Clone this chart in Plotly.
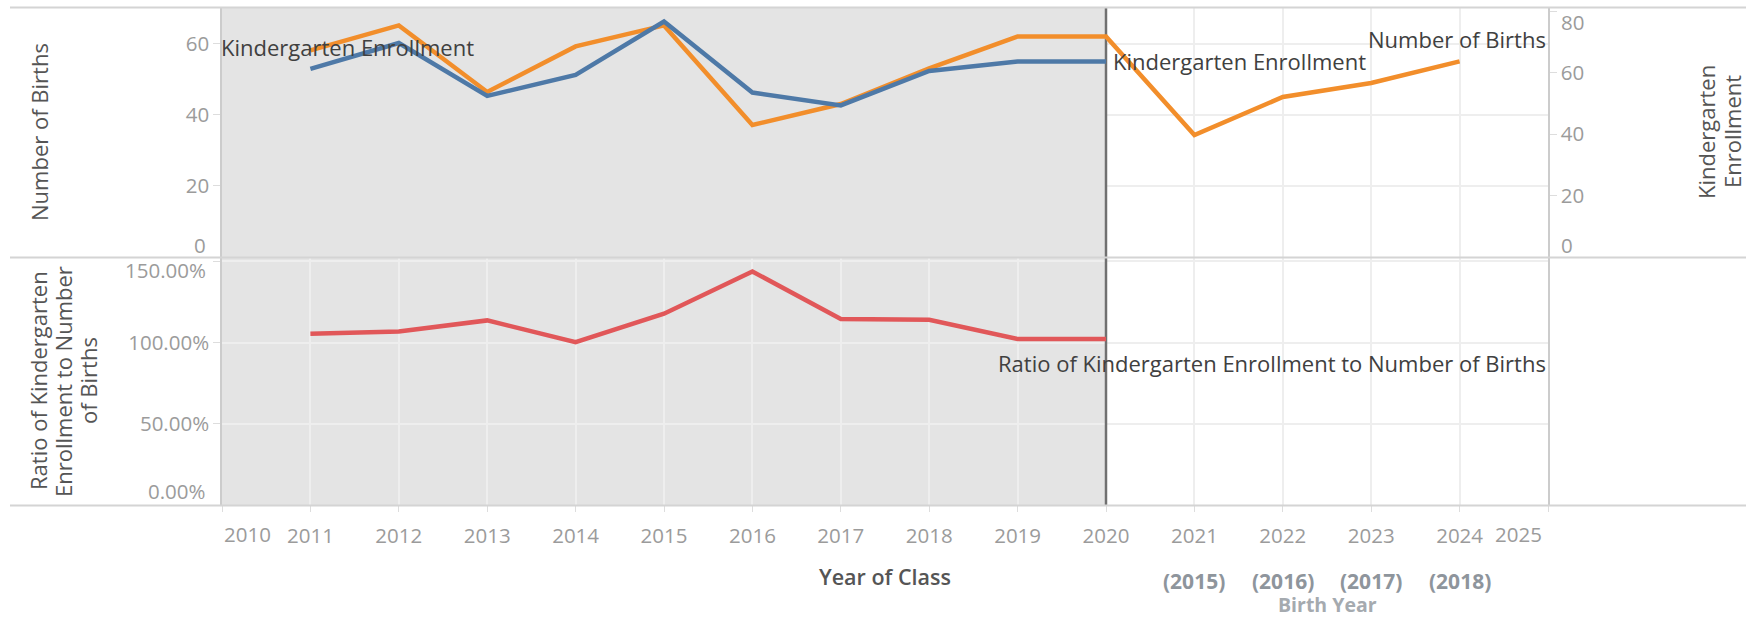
import plotly.graph_objects as go

# ---------------- data ----------------
class_years = [2011, 2012, 2013, 2014, 2015, 2016, 2017, 2018, 2019, 2020, 2021, 2022, 2023, 2024]
births = [58.1, 65.1, 46.4, 59.2, 65.1, 37.1, 43.0, 53.0, 62.0, 62.0, 34.3, 45.0, 48.9, 55.0]

enroll_years = [2011, 2012, 2013, 2014, 2015, 2016, 2017, 2018, 2019, 2020]
enrollment = [61.2, 69.6, 52.4, 59.2, 76.6, 53.5, 49.3, 60.5, 63.6, 63.6]

ratio_years = [2011, 2012, 2013, 2014, 2015, 2016, 2017, 2018, 2019, 2020]
ratio = [1.054, 1.068, 1.136, 1.002, 1.177, 1.437, 1.144, 1.140, 1.021, 1.021]

x_tick_years = list(range(2010, 2026))
births_ticks = [0, 20, 40, 60]
enroll_ticks = [0, 20, 40, 60, 80]
ratio_ticks = [0, 0.5, 1.0, 1.5]

birth_label_years = [2021, 2022, 2023, 2024]
birth_year_labels = ["(2015)", "(2016)", "(2017)", "(2018)"]

x_range = [2010, 2025]
births_range = [0, 70]
enroll_range = [0, 81]
ratio_range = [0, 1.52]
split_year = 2020

# ---------------- style / layout ----------------
W, H = 1746, 620
FONT = "Open Sans"
ORANGE, BLUE, RED = "#f28e2b", "#4e79a7", "#e15759"
TICK_COLOR = "#9b9b9b"
LABEL_COLOR = "#404040"
TITLE_COLOR = "#555555"
GRID = "#eeeeee"
BORDER = "#d4d4d4"
BAND = "#e4e4e4"


def px(x):
    return x / W


def py(y):
    return 1 - y / H


X0, X1 = 222, 1548
TOP0, TOP1 = 8, 257
BOT0, BOT1 = 258, 505

tick_font = dict(family=FONT, size=20.5, color=TICK_COLOR)
lab_font = dict(family=FONT, size=22, color=LABEL_COLOR)
title_font = dict(family=FONT, size=22, color=TITLE_COLOR)

fig = go.Figure()
fig.add_trace(go.Scatter(x=class_years, y=births, mode="lines", name="Number of Births",
                         line=dict(color=ORANGE, width=4.5), xaxis="x", yaxis="y"))
fig.add_trace(go.Scatter(x=enroll_years, y=enrollment, mode="lines", name="Kindergarten Enrollment",
                         line=dict(color=BLUE, width=4.5), xaxis="x", yaxis="y2"))
fig.add_trace(go.Scatter(x=ratio_years, y=ratio, mode="lines",
                         name="Ratio of Kindergarten Enrollment to Number of Births",
                         line=dict(color=RED, width=4.5), xaxis="x2", yaxis="y3"))


def edge_blank(vals, fmt):
    return ["" if (i == 0 or i == len(vals) - 1) else fmt(v) for i, v in enumerate(vals)]


common_x = dict(domain=[px(X0), px(X1)], range=x_range, tickvals=x_tick_years,
                zeroline=False, showline=False)

fig.update_layout(
    width=W, height=H, margin=dict(l=0, r=0, t=0, b=0),
    paper_bgcolor="white", plot_bgcolor="white", showlegend=False,
    font=dict(family=FONT),
    xaxis=dict(**common_x, anchor="y", showticklabels=False, ticks="",
               showgrid=True, gridcolor=GRID, gridwidth=1.5),
    xaxis2=dict(**common_x, anchor="y3", ticks="outside", ticklen=6, tickcolor="#dddddd",
                showgrid=True, gridcolor=GRID, gridwidth=1.5,
                ticktext=["" if y in x_range else str(y) for y in x_tick_years],
                tickfont=tick_font, ticklabelstandoff=6),
    yaxis=dict(domain=[py(TOP1), py(TOP0)], range=births_range, anchor="x",
               tickvals=births_ticks, ticktext=["" if v == 0 else str(v) for v in births_ticks],
               ticks="outside", ticklen=7, tickcolor="#dddddd", tickfont=tick_font,
               showgrid=True, gridcolor=GRID, gridwidth=1.5, zeroline=False,
               showline=True, linecolor="#cccccc", linewidth=1.5),
    yaxis2=dict(overlaying="y", side="right", range=enroll_range, anchor="x",
                tickvals=enroll_ticks, ticktext=edge_blank(enroll_ticks, str),
                ticks="outside", ticklen=7, tickcolor="#dddddd", tickfont=tick_font,
                showgrid=False, zeroline=False,
                showline=True, linecolor="#cccccc", linewidth=1.5),
    yaxis3=dict(domain=[py(BOT1), py(BOT0)], range=ratio_range, anchor="x2",
                tickvals=ratio_ticks, ticktext=edge_blank(ratio_ticks, lambda v: f"{v:.2%}"),
                ticks="outside", ticklen=7, tickcolor="#dddddd", tickfont=tick_font,
                showgrid=True, gridcolor=GRID, gridwidth=1.5, zeroline=False,
                showline=True, mirror=True, linecolor="#cccccc", linewidth=1.5),
)

shapes = [
    # shaded historical band (top pane covers its grid, bottom pane shows grid over it)
    dict(type="rect", xref="x", yref="y", x0=x_range[0], x1=split_year,
         y0=births_range[0], y1=births_range[1],
         fillcolor=BAND, line=dict(width=0), layer="between"),
    dict(type="rect", xref="x2", yref="y3", x0=x_range[0], x1=split_year,
         y0=ratio_range[0], y1=ratio_range[1],
         fillcolor=BAND, line=dict(width=0), layer="below"),
    # split line
    dict(type="line", xref="x", yref="y", x0=split_year, x1=split_year,
         y0=births_range[0], y1=births_range[1],
         line=dict(color="#707070", width=2.5), layer="between"),
    dict(type="line", xref="x2", yref="y3", x0=split_year, x1=split_year,
         y0=ratio_range[0], y1=ratio_range[1],
         line=dict(color="#707070", width=2.5), layer="between"),
]
for yy in (7.5, 257.5, 505.5):
    shapes.append(dict(type="line", xref="paper", yref="paper", x0=px(10), x1=1, y0=py(yy), y1=py(yy),
                       line=dict(color=BORDER, width=2), layer="above"))
fig.update_layout(shapes=shapes)

ann = []
# edge tick labels (nudged inward like the original)
ann.append(dict(xref="paper", yref="y", x=px(208), y=births_ticks[0], text=str(births_ticks[0]),
                xanchor="right", yanchor="middle", yshift=12, showarrow=False, font=tick_font))
ann.append(dict(xref="paper", yref="y2", x=px(1559), y=enroll_ticks[0], text=str(enroll_ticks[0]),
                xanchor="left", yanchor="middle", yshift=12, showarrow=False, font=tick_font))
ann.append(dict(xref="paper", yref="y2", x=px(1559), y=enroll_ticks[-1], text=str(enroll_ticks[-1]),
                xanchor="left", yanchor="middle", yshift=-11, showarrow=False, font=tick_font))
ann.append(dict(xref="paper", yref="y3", x=px(208), y=ratio_ticks[-1], text=f"{ratio_ticks[-1]:.2%}",
                xanchor="right", yanchor="middle", yshift=-9, showarrow=False, font=tick_font))
ann.append(dict(xref="paper", yref="y3", x=px(208), y=ratio_ticks[0], text=f"{ratio_ticks[0]:.2%}",
                xanchor="right", yanchor="middle", yshift=14, showarrow=False, font=tick_font))
ann.append(dict(xref="x2", yref="paper", x=x_range[0], y=py(534), text=str(x_range[0]),
                xanchor="left", yanchor="middle", xshift=0, showarrow=False, font=tick_font))
ann.append(dict(xref="x2", yref="paper", x=x_range[1], y=py(534), text=str(x_range[1]),
                xanchor="right", yanchor="middle", xshift=-4, showarrow=False, font=tick_font))

# line labels
ann.append(dict(xref="x", yref="y", x=x_range[0], y=births[0], text="Kindergarten Enrollment",
                xanchor="left", yanchor="middle", xshift=-3, yshift=3, showarrow=False, font=lab_font))
ann.append(dict(xref="x", yref="y2", x=enroll_years[-1], y=enrollment[-1], text="Kindergarten Enrollment",
                xanchor="left", yanchor="middle", xshift=5, showarrow=False, font=lab_font))
ann.append(dict(xref="x", yref="y", x=x_range[1], y=births[-1], text="Number of Births",
                xanchor="right", yanchor="middle", xshift=0, yshift=22, showarrow=False, font=lab_font))
ann.append(dict(xref="x2", yref="y3", x=x_range[1], y=ratio[-1],
                text="Ratio of Kindergarten Enrollment to Number of Births",
                xanchor="right", yanchor="middle", xshift=0, yshift=-24, showarrow=False, font=lab_font))

# axis titles
ann.append(dict(xref="paper", yref="paper", x=px(39), y=py(132), text="Number of Births",
                textangle=-90, showarrow=False, font=title_font, xanchor="center", yanchor="middle"))
for xx, line in zip((38, 63, 88), ("Ratio of Kindergarten", "Enrollment to Number", "of Births")):
    ann.append(dict(xref="paper", yref="paper", x=px(xx), y=py(381), text=line,
                    textangle=-90, showarrow=False, font=title_font, xanchor="center", yanchor="middle"))
for xx, line in zip((1706, 1732), ("Kindergarten", "Enrollment")):
    ann.append(dict(xref="paper", yref="paper", x=px(xx), y=py(132), text=line,
                    textangle=-90, showarrow=False, font=title_font, xanchor="center", yanchor="middle"))
ann.append(dict(xref="x2 domain", yref="paper", x=0.5, y=py(576), text="Year of Class",
                showarrow=False, xanchor="center", yanchor="middle",
                font=dict(family=FONT, size=21.5, color=TITLE_COLOR, weight=600)))

# birth year sub-labels
for yr, lab in zip(birth_label_years, birth_year_labels):
    ann.append(dict(xref="x2", yref="paper", x=yr, y=py(581), text=lab, showarrow=False,
                    xanchor="center", yanchor="middle",
                    font=dict(family=FONT, size=21, color="#8e959c", weight=700)))
ann.append(dict(xref="x2", yref="paper", x=(birth_label_years[0] + birth_label_years[-1]) / 2, y=py(604),
                text="Birth Year", showarrow=False, xanchor="center", yanchor="middle",
                font=dict(family=FONT, size=19.5, color="#a5aaaf", weight=700)))

fig.update_layout(annotations=ann)
fig.write_html("out.html", config={"displayModeBar": False},
               post_script="document.body.style.margin='0px';")
